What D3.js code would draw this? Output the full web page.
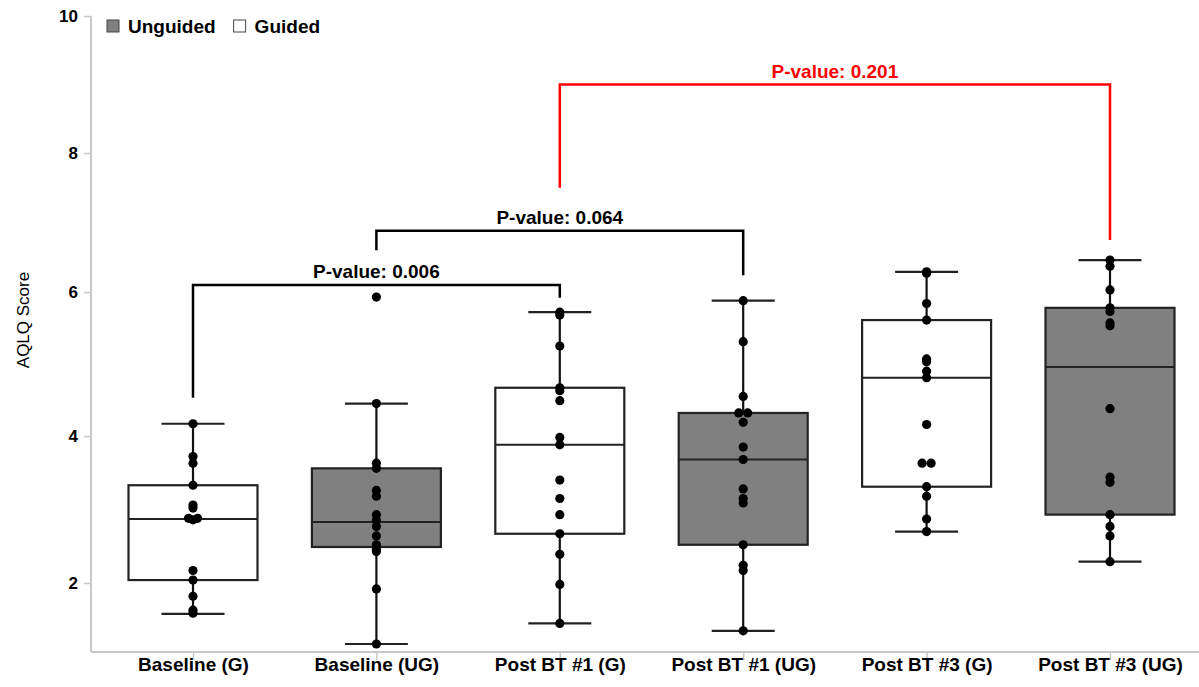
<!DOCTYPE html>
<html>
<head>
<meta charset="utf-8">
<script src="https://cdn.jsdelivr.net/npm/d3@7"></script>
<style>
  html, body { margin: 0; padding: 0; background: #fff; }
  svg { display: block; font-family: "Liberation Sans", Arial, sans-serif; }
</style>
</head>
<body>
<svg id="chart" width="1199" height="687"></svg>
<script>
// ---------- data ----------
const categories = ["Baseline (G)", "Baseline (UG)", "Post BT #1 (G)", "Post BT #1 (UG)", "Post BT #3 (G)", "Post BT #3 (UG)"];
const groups = ["Guided", "Unguided", "Guided", "Unguided", "Guided", "Unguided"];
const whiskerLow  = [1.58, 1.17, 1.45, 1.35, 2.70, 2.29];
const q1          = [2.04, 2.49, 2.67, 2.52, 3.31, 2.93];
const median      = [2.87, 2.83, 3.88, 3.68, 4.81, 4.96];
const q3          = [3.33, 3.56, 4.67, 4.32, 5.61, 5.78];
const whiskerHigh = [4.17, 4.45, 5.72, 5.88, 6.29, 6.46];

const pointsBaselineG   = [4.17, 3.72, 3.63, 3.33, 3.06, 3.02, 2.88, 2.88, 2.86, 2.17, 2.04, 1.82, 1.63, 1.59];
const pointsBaselineUG  = [5.93, 4.45, 3.63, 3.56, 3.26, 3.18, 2.93, 2.85, 2.77, 2.64, 2.52, 2.46, 2.43, 1.92, 1.17];
const pointsPost1G      = [5.72, 5.68, 5.25, 4.67, 4.63, 4.49, 3.98, 3.88, 3.40, 3.15, 2.93, 2.67, 2.39, 1.98, 1.45];
const pointsPost1UG     = [5.88, 5.31, 4.55, 4.32, 4.32, 4.19, 3.85, 3.68, 3.28, 3.15, 3.09, 2.52, 2.24, 2.17, 1.35];
const pointsPost3G      = [6.29, 6.27, 5.84, 5.61, 5.07, 5.03, 4.90, 4.81, 4.16, 3.63, 3.63, 3.31, 3.18, 2.87, 2.70];
const pointsPost3UG     = [6.46, 6.37, 6.03, 5.78, 5.73, 5.57, 5.53, 4.38, 3.44, 3.37, 2.93, 2.77, 2.64, 2.29];
const pointSets = [pointsBaselineG, pointsBaselineUG, pointsPost1G, pointsPost1UG, pointsPost3G, pointsPost3UG];

const yTicks = [2, 4, 6, 8, 10];

const bracketFrom     = [0, 1, 2];
const bracketTo       = [2, 3, 5];
const bracketTop      = [6.10, 6.88, 9.00];
const bracketLeftEnd  = [4.53, 6.60, 7.50];
const bracketRightEnd = [5.92, 6.24, 6.75];
const bracketLabels   = ["P-value: 0.006", "P-value: 0.064", "P-value: 0.201"];

const legendKeys = ["Unguided", "Guided"];

// ---------- styles ----------
const fillColor = { Unguided: "#808080", Guided: "#ffffff" };
const bracketColors = ["#000000", "#000000", "#ff0000"];
const axisColor = "#c8c8c8";

// ---------- layout ----------
const svg = d3.select("#chart");
const axisX0 = 91, axisX1 = 1199, axisY = 652;

const x = d3.scalePoint().domain(categories).range([193, 1110]);
const y = d3.scaleLinear().domain([1, 2, 4, 6, 8, 10]).range([656.5, 583, 436, 292, 153, 16]);

const boxW = 129, capW = 63;

// axes
svg.append("line").attr("x1", axisX0).attr("x2", axisX1).attr("y1", axisY).attr("y2", axisY)
  .attr("stroke", axisColor).attr("stroke-width", 2);
svg.append("line").attr("x1", axisX0).attr("x2", axisX0).attr("y1", y(10)).attr("y2", axisY)
  .attr("stroke", axisColor).attr("stroke-width", 2);

const yAxis = svg.append("g").attr("transform", `translate(${axisX0},0)`)
  .call(d3.axisLeft(y).tickValues(yTicks).tickSize(7).tickPadding(6).tickFormat(d3.format("d")));
yAxis.select(".domain").remove();
yAxis.selectAll(".tick line").attr("stroke", axisColor).attr("stroke-width", 1.5);
yAxis.selectAll(".tick text").attr("font-size", 17).attr("font-weight", "bold").attr("fill", "#000")
  .attr("font-family", "Liberation Sans, Arial, sans-serif");

const xAxis = svg.append("g").attr("transform", `translate(0,${axisY})`)
  .call(d3.axisBottom(x).tickSize(8).tickPadding(6));
xAxis.select(".domain").remove();
xAxis.selectAll(".tick line").attr("stroke", axisColor).attr("stroke-width", 1.5);
xAxis.selectAll(".tick text").attr("font-size", 19).attr("font-weight", "bold").attr("fill", "#000")
  .attr("y", 6).attr("font-family", "Liberation Sans, Arial, sans-serif");

svg.append("text").attr("transform", `translate(29,${320}) rotate(-90)`)
  .attr("text-anchor", "middle").attr("font-size", 17).attr("fill", "#000").text("AQLQ Score");

// boxes
const boxes = svg.append("g");
categories.forEach((c, i) => {
  const cx = x(c);
  const g = boxes.append("g");
  g.append("line").attr("x1", cx).attr("x2", cx).attr("y1", y(whiskerHigh[i])).attr("y2", y(whiskerLow[i]))
    .attr("stroke", "#111").attr("stroke-width", 2.2);
  g.append("rect").attr("x", cx - boxW / 2).attr("width", boxW)
    .attr("y", y(q3[i])).attr("height", y(q1[i]) - y(q3[i]))
    .attr("fill", fillColor[groups[i]]).attr("stroke", "#222").attr("stroke-width", 2.2);
  g.append("line").attr("x1", cx - boxW / 2).attr("x2", cx + boxW / 2).attr("y1", y(median[i])).attr("y2", y(median[i]))
    .attr("stroke", "#222").attr("stroke-width", 2);
  [whiskerHigh[i], whiskerLow[i]].forEach(v => {
    g.append("line").attr("x1", cx - capW / 2).attr("x2", cx + capW / 2).attr("y1", y(v)).attr("y2", y(v))
      .attr("stroke", "#222").attr("stroke-width", 2.2);
  });
  // points, dodge exact ties sideways
  const seen = {};
  pointSets[i].forEach(v => { seen[v] = (seen[v] || 0) + 1; });
  const used = {};
  pointSets[i].forEach(v => {
    const n = seen[v];
    const k = used[v] = (used[v] || 0) + 1;
    const off = n > 1 ? (k - (n + 1) / 2) * 9 : 0;
    g.append("circle").attr("cx", cx + off).attr("cy", y(v)).attr("r", 4.6).attr("fill", "#000");
  });
});

// brackets
bracketFrom.forEach((f, i) => {
  const x1 = x(categories[f]), x2 = x(categories[bracketTo[i]]);
  const col = bracketColors[i];
  svg.append("path")
    .attr("d", `M${x1},${y(bracketLeftEnd[i])}V${y(bracketTop[i])}H${x2}V${y(bracketRightEnd[i])}`)
    .attr("fill", "none").attr("stroke", col).attr("stroke-width", 2.5);
  svg.append("text").attr("x", (x1 + x2) / 2).attr("y", y(bracketTop[i]) - 7)
    .attr("text-anchor", "middle").attr("font-size", 19).attr("font-weight", "bold").attr("fill", col)
    .text(bracketLabels[i]);
});

// legend
const leg = svg.append("g").attr("transform", "translate(107,26)");
let lx = 0;
legendKeys.forEach(k => {
  const g = leg.append("g").attr("transform", `translate(${lx},0)`);
  g.append("rect").attr("x", 0).attr("y", -6).attr("width", 12).attr("height", 12)
    .attr("fill", fillColor[k]).attr("stroke", "#444").attr("stroke-width", 1);
  const t = g.append("text").attr("x", 21).attr("y", 7).attr("font-size", 19).attr("font-weight", "bold")
    .attr("fill", "#000").text(k);
  lx += 21 + t.node().getComputedTextLength() + 18;
});
</script>
</body>
</html>
